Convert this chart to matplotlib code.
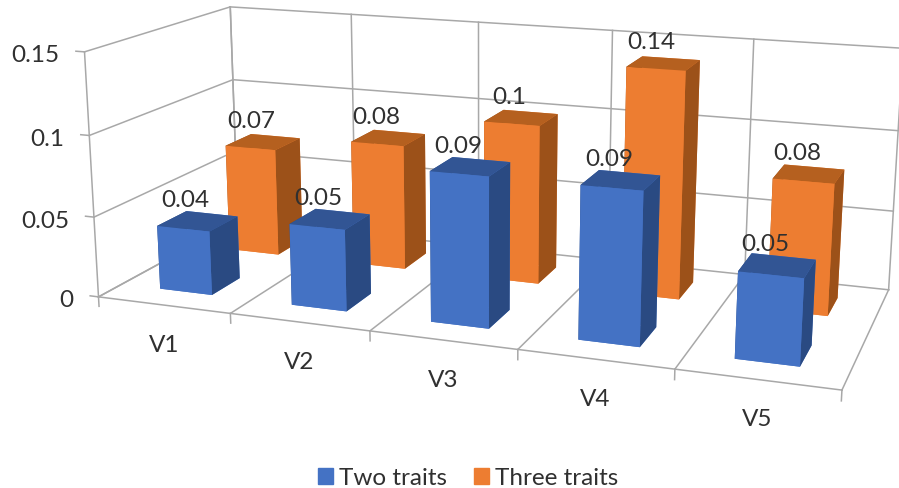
import numpy as np
import matplotlib
matplotlib.use("Agg")
import matplotlib.pyplot as plt
from matplotlib.patches import Patch
from mpl_toolkits.mplot3d import proj3d

plt.rcParams["font.family"] = ["Lato", "DejaVu Sans"]

categories = ["V1", "V2", "V3", "V4", "V5"]
two_traits = [0.04, 0.05, 0.09, 0.09, 0.05]
three_traits = [0.07, 0.08, 0.10, 0.14, 0.08]
value_ticks = [0, 0.05, 0.1, 0.15]
value_tick_labels = ["0", "0.05", "0.1", "0.15"]

WIDTH, HEIGHT = 899, 489
GRID = "#A8A8A8"
TEXT = "#303030"
FONT = 17.5

# Camera and box proportions of the 3-D view
ELEV, AZIM, ROLL, FOCAL = 14.387, -70.220, -0.105, 0.399
BOX = (1, 0.399, 0.336)
PX_SCALE, PX_X, PX_Y = 4422.34, 496.72, 314.18

fig = plt.figure(figsize=(WIDTH / 100, HEIGHT / 100), dpi=100)
ax = fig.add_axes([0, 0, 1, 1], projection="3d")
ax.set_xlim(0, 5)
ax.set_ylim(0, 1)
ax.set_zlim(0, 0.15)
ax.view_init(ELEV, AZIM, ROLL)
ax.set_proj_type("persp", focal_length=FOCAL)
ax.set_box_aspect(BOX)
ax.set_axis_off()
ax.patch.set_visible(False)
ax.computed_zorder = False

# Place the square 3-D axes so one projected unit spans PX_SCALE pixels
vl, vr = ax.viewLim.intervalx
bl, bt = ax.viewLim.intervaly
side = PX_SCALE * (vr - vl)
ax.set_position([(PX_X + PX_SCALE * vl) / WIDTH, (PX_Y + PX_SCALE * bl) / HEIGHT,
                 side / WIDTH, side / HEIGHT])


def rule(xs, ys, zs):
    ax.plot(xs, ys, zs, color=GRID, lw=1.1, zorder=1, clip_on=False)


n = len(categories)
zmax = value_ticks[-1]
for z in value_ticks:
    rule([0, 0], [0, 1], [z, z])
    rule([0, n], [1, 1], [z, z])
    rule([-0.065, 0], [0, 0], [z, z])
for i in range(n + 1):
    rule([i, i], [1, 1], [0, zmax])
    rule([i, i], [0, 1], [0, 0])
    rule([i, i], [0, 0], [0, -0.006])
rule([0, n], [0, 0], [0, 0])
rule([0, 0], [0, 0], [0, zmax])
rule([0, 0], [1, 1], [0, zmax])

BAR_W, BAR_D = 0.4, 0.2
# face colours in bar3d order: bottom, top, front, back, left, right
SERIES = [
    (three_traits, 0.65, ["#ED7D31", "#B5601F", "#ED7D31", "#ED7D31", "#9C5119", "#9C5119"]),
    (two_traits, 0.15, ["#4472C4", "#325594", "#4472C4", "#4472C4", "#2A4A82", "#2A4A82"]),
]
order = 2
for values, y0, colors in SERIES:
    for i, v in enumerate(values):
        ax.bar3d(i + 0.3, y0, 0, BAR_W, BAR_D, v, shade=False, linewidth=0,
                 color=colors, zorder=order)
        order += 1


def to_view(x, y, z):
    px, py, _ = proj3d.proj_transform(np.array([x]), np.array([y]), np.array([z]), ax.get_proj())
    return float(px[0]), float(py[0])


def label(x, y, z, s, dx, dy, ha="center", zorder=100):
    ax.annotate(s, xy=to_view(x, y, z), xycoords="data", xytext=(dx * 0.72, -dy * 0.72),
                textcoords="offset points", ha=ha, va="center", fontsize=FONT,
                color=TEXT, annotation_clip=False, zorder=zorder)


for values, y0, _ in SERIES:
    for i, v in enumerate(values):
        label(i + 0.5, y0 + BAR_D / 2, v, f"{v:g}", -12, -21.5)

for i, c in enumerate(categories):
    label(i + 0.5, 0, 0, c, 0.5, 39.5)

for z, s in zip(value_ticks, value_tick_labels):
    label(0, 0, z, s, -25, 3, ha="right")

fig.legend(handles=[Patch(color="#4472C4", label="Two traits"),
                    Patch(color="#ED7D31", label="Three traits")],
           loc="center", bbox_to_anchor=(468 / WIDTH, 1 - 479 / HEIGHT), ncol=2,
           frameon=False, fontsize=FONT, labelcolor=TEXT, handlelength=0.62,
           handleheight=0.62, handletextpad=0.25, columnspacing=1.1)

fig.savefig("out.png", dpi=100)
